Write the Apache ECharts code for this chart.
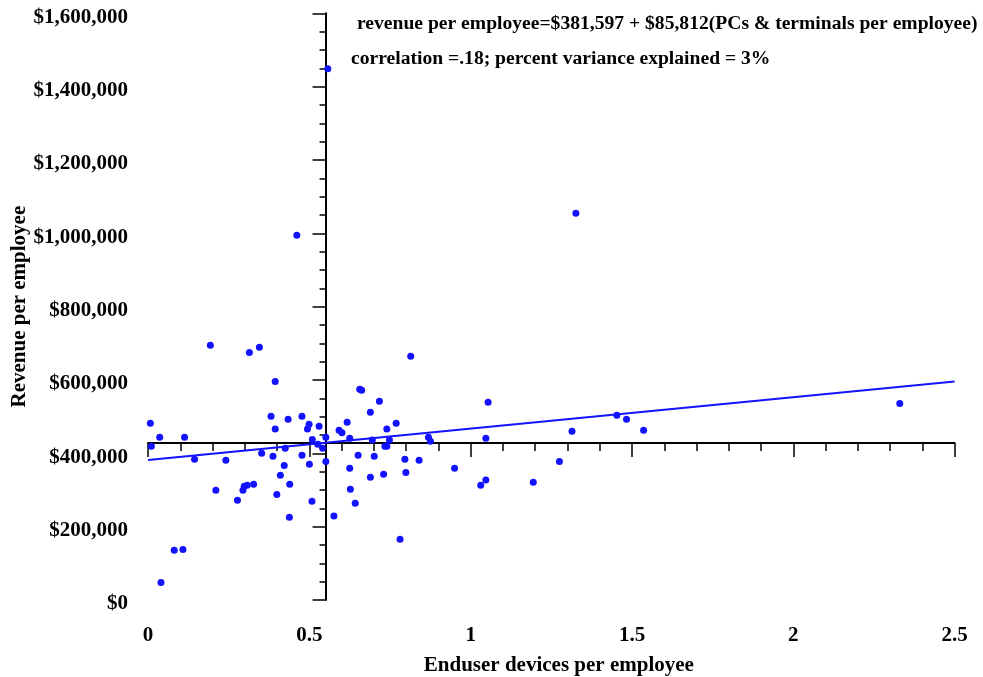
<!DOCTYPE html>
<html>
<head>
<meta charset="utf-8">
<script src="https://cdn.jsdelivr.net/npm/echarts@6/dist/echarts.min.js"></script>
<style>
html,body{margin:0;padding:0;background:#fff;}
#chart{width:983px;height:677px;}
</style>
</head>
<body>
<div id="chart"></div>
<script>
// Enduser devices per employee (x) and revenue per employee (y, $)
const devicesPerEmployee = [
  0.193,0.314,0.345,0.394,0.656,0.662,0.717,0.689,0.007,0.381,
  0.434,0.477,0.499,0.494,0.530,0.394,0.617,0.592,0.601,0.625,
  0.740,0.695,0.036,0.113,0.010,0.509,0.551,0.526,0.541,0.425,
  0.734,0.740,0.144,0.241,0.352,0.387,0.477,0.551,0.651,0.701,
  0.422,0.500,0.625,0.410,0.689,0.730,0.210,0.294,0.298,0.307,
  0.327,0.439,0.627,0.399,0.277,0.508,0.642,0.438,0.576,0.081,
  0.108,0.040,0.814,1.054,0.769,0.748,0.869,0.875,1.047,0.796,
  0.840,0.799,0.950,1.031,1.047,1.194,0.781,2.330,1.453,1.483,
  1.314,1.536,1.275,0.557,0.461,1.326
];
const revenuePerEmployee = [
  695000,675000,689000,596000,575000,572000,542000,512000,482000,501000,
  493000,501000,479000,466000,474000,466000,485000,463000,456000,441000,
  466000,436000,444000,444000,419000,438000,444000,425000,414000,414000,
  419000,419000,384000,381000,400000,392000,395000,378000,395000,392000,
  367000,370000,359000,340000,335000,343000,299000,299000,310000,313000,
  316000,316000,302000,288000,272000,269000,264000,226000,229000,136000,
  138000,48000,665000,539000,482000,436000,444000,433000,441000,384000,
  381000,348000,359000,313000,327000,321000,166000,536000,504000,493000,
  460000,463000,378000,1449000,995000,1055000
];
// fitted line end points
const fitX = [0, 2.5];
const fitY = [381597, 596127];
// crossing point of the two reference axes (means)
const meanX = 0.55;
const meanY = 428000;
const xTickLabels = ['0','0.5','1','1.5','2','2.5'];
const yTickLabels = ['$0','$200,000','$400,000','$600,000','$800,000','$1,000,000','$1,200,000','$1,400,000','$1,600,000'];
const titleLine1 = 'revenue per employee=$381,597 + $85,812(PCs & terminals per employee)';
const titleLine2 = 'correlation =.18; percent variance explained = 3%';
const xName = 'Enduser devices per employee';
const yName = 'Revenue per employee';

const FONT = "'Liberation Serif','Times New Roman',serif";
const chart = echarts.init(document.getElementById('chart'), null, {renderer:'canvas'});

const scatterData = devicesPerEmployee.map((x,i)=>[x, revenuePerEmployee[i]]);
const fitData = fitX.map((x,i)=>[x, fitY[i]]);

const xMax = 2.5, yMax = 1600000;

chart.setOption({
  animation:false,
  backgroundColor:'#fff',
  title:[
    {text:titleLine1, left:357, top:14, padding:0,
     textStyle:{fontFamily:FONT,fontWeight:'bold',fontSize:19.6,color:'#000'}},
    {text:titleLine2, left:351, top:49, padding:0,
     textStyle:{fontFamily:FONT,fontWeight:'bold',fontSize:19.6,color:'#000'}}
  ],
  grid:{left:148.1, right:28.4, top:13.3, bottom:77, containLabel:false, outerBoundsMode:'none'},
  xAxis:[
    { // labels axis
      type:'value', position:'bottom', min:0, max:xMax, interval:0.5,
      axisLine:{show:false, onZero:false}, axisTick:{show:false}, splitLine:{show:false},
      axisLabel:{show:true, margin:25, fontFamily:FONT, fontWeight:'bold', fontSize:21, color:'#000',
        formatter:(v)=>xTickLabels[Math.round(v/0.5)]},
      name:xName, nameLocation:'middle', nameGap:55, nameMoveOverlap:false,
      nameTextStyle:{fontFamily:FONT, fontWeight:'bold', fontSize:21, color:'#000', padding:[0,0,0,15]}
    },
    { // crossing horizontal line with ticks
      type:'value', position:'bottom', min:0, max:xMax, interval:0.5,
      axisLine:{show:true, onZero:true, onZeroAxisIndex:2, lineStyle:{color:'#000', width:2}},
      axisTick:{show:true, length:14, lineStyle:{color:'#000', width:1.5}},
      minorTick:{show:true, splitNumber:5, length:8, lineStyle:{color:'#000', width:1.5}},
      axisLabel:{show:false}, splitLine:{show:false}, minorSplitLine:{show:false}
    },
    { // helper axis, zero at meanX
      type:'value', position:'bottom', show:false, min:-meanX, max:xMax-meanX,
      axisLine:{onZero:false}
    }
  ],
  yAxis:[
    {
      type:'value', position:'left', min:0, max:yMax, interval:200000,
      axisLine:{show:false, onZero:false}, axisTick:{show:false}, splitLine:{show:false},
      axisLabel:{show:true, margin:20, color:'#000',
        formatter:(v)=>'{t|' + yTickLabels[Math.round(v/200000)] + '}',
        rich:{t:{fontFamily:FONT, fontWeight:'bold', fontSize:21, color:'#000', padding:[8,0,0,0]}}},
      name:yName, nameLocation:'middle', nameGap:118, nameMoveOverlap:false,
      nameTextStyle:{fontFamily:FONT, fontWeight:'bold', fontSize:21, color:'#000'}
    },
    {
      type:'value', position:'left', min:0, max:yMax, interval:200000,
      axisLine:{show:true, onZero:true, onZeroAxisIndex:2, lineStyle:{color:'#000', width:2}},
      axisTick:{show:true, length:13, lineStyle:{color:'#000', width:1.5}},
      minorTick:{show:true, splitNumber:4, length:6, lineStyle:{color:'#000', width:1.5}},
      axisLabel:{show:false}, splitLine:{show:false}, minorSplitLine:{show:false}
    },
    {
      type:'value', position:'left', show:false, min:-meanY, max:yMax-meanY,
      axisLine:{onZero:false}
    }
  ],
  series:[
    {
      type:'line', xAxisIndex:0, yAxisIndex:0, data:fitData, symbol:'none',
      lineStyle:{color:'#1414ff', width:2}, z:3, silent:true
    },
    {
      type:'scatter', xAxisIndex:0, yAxisIndex:0, data:scatterData, symbol:'circle', symbolSize:7,
      itemStyle:{color:'#1212ff', opacity:1}, z:4
    }
  ]
});
</script>
</body>
</html>
